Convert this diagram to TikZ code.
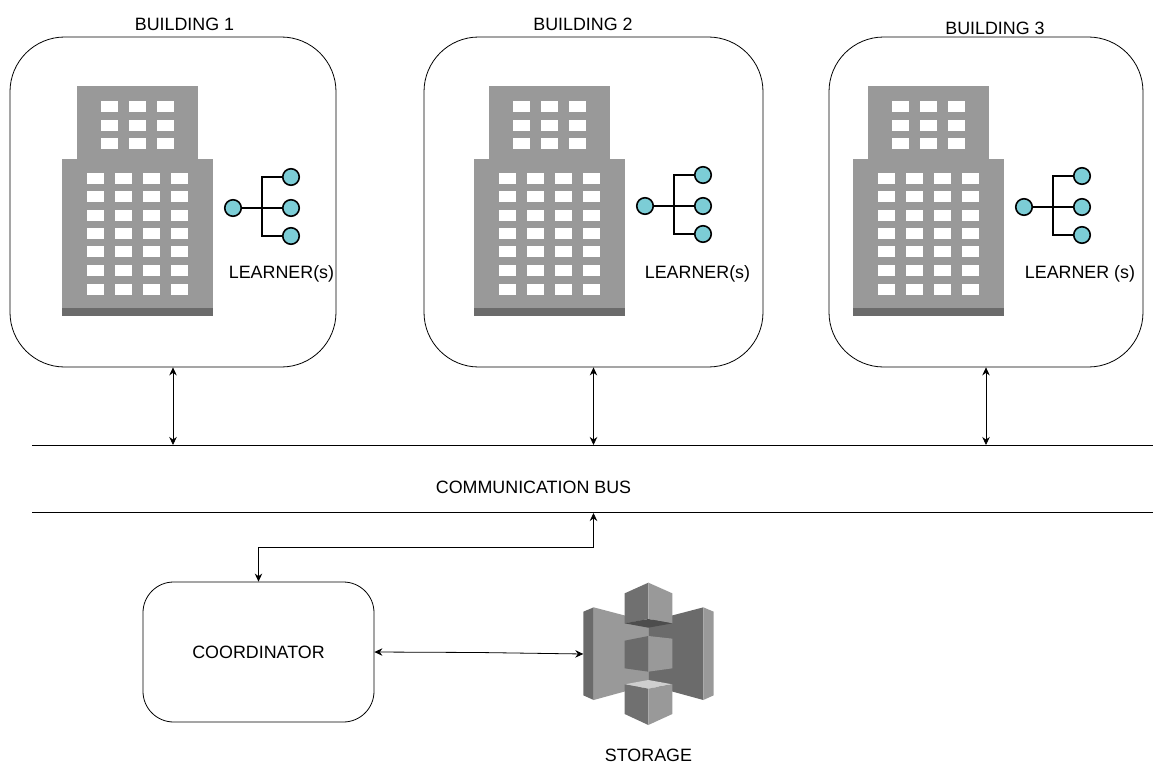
\documentclass[tikz,border=0pt]{standalone}
\usepackage{fontspec}
\setmainfont{Liberation Sans}
\usetikzlibrary{arrows.meta}

\def\px{0.75pt}
\definecolor{wall}{HTML}{999999}
\definecolor{wallshade}{HTML}{6B6B6B}
\definecolor{learnerfill}{HTML}{7CCDD6}
\definecolor{cubedark}{HTML}{4D4D4D}
\definecolor{cubemid}{HTML}{707070}
\definecolor{cubelight}{HTML}{CFCFCF}

\tikzset{
    roombox/.style={draw, rectangle, inner sep=0pt, line width=0.6pt},
    label/.style={inner sep=0pt, font=\fontsize{13.4pt}{15pt}\selectfont},
    learner/.style={draw, circle, fill=learnerfill, line width=1.2pt, minimum size=16.5*\px, inner sep=0pt},
    treeline/.style={line width=1.2pt},
    busline/.style={line width=0.6pt},
    link/.style={line width=0.6pt, {Stealth[length=6pt,width=5.6pt]}-{Stealth[length=6pt,width=5.6pt]}},
    building/.pic={
        \fill[wall] (76.5,86) rectangle (198,159);
        \fill[wall] (62,159) rectangle (212.5,308);
        \fill[wallshade] (62,308) rectangle (212.5,316);
        \foreach \wx in {100.5,129,157}
            \foreach \wy in {101,119.5,138}
                \fill[white] (\wx,\wy) rectangle ++(17,11);
        \foreach \wx in {86.5,115,143,171}
            \foreach \wy in {172.5,191,209.5,227.5,246,265,283.5}
                \fill[white] (\wx,\wy) rectangle ++(17,11);
    },
    learnertree/.pic={
        \node[learner] (root) at (0,0) {};
        \node[learner] (top) at (58,-31) {};
        \node[learner] (mid) at (58,0) {};
        \node[learner] (low) at (58,28) {};
        \coordinate (fork) at (29,0);
        \draw[treeline] (root) -- (mid);
        \draw[treeline] (fork) |- (top);
        \draw[treeline] (fork) |- (low);
    }
}

\begin{document}
\begin{tikzpicture}[x=\px, y=-\px]
    \useasboundingbox (0,0) rectangle (1165,775);

    % buildings
    \node[roombox, rounded corners=41pt, minimum width=326*\px, minimum height=330*\px] (b1) at (173,202) {};
    \node[roombox, rounded corners=41pt, minimum width=339*\px, minimum height=330*\px] (b2) at (593.5,202) {};
    \node[roombox, rounded corners=41pt, minimum width=314*\px, minimum height=330*\px] (b3) at (986,202) {};
    \pic at (0,0) {building};
    \pic at (412,0) {building};
    \pic at (791,0) {building};
    \pic (t1) at (233,208) {learnertree};
    \pic (t2) at (645,206) {learnertree};
    \pic (t3) at (1024,207) {learnertree};

    \node[label] (b1label) at (184.5,24) {BUILDING 1};
    \node[label] (b2label) at (583,24) {BUILDING 2};
    \node[label] (b3label) at (995,28) {BUILDING 3};
    \node[label] (l1label) at (281.5,273.5) {LEARNER(s)};
    \node[label] (l2label) at (697.5,273.5) {LEARNER(s)};
    \node[label] (l3label) at (1080,273.5) {LEARNER (s)};

    % bus
    \coordinate (bustopl) at (32,445);
    \coordinate (bustopr) at (1153,445);
    \coordinate (buslowl) at (32,512.5);
    \coordinate (buslowr) at (1153,512.5);
    \draw[busline] (bustopl) -- (bustopr);
    \draw[busline] (buslowl) -- (buslowr);
    \node[label] (buslabel) at (533.5,487) {COMMUNICATION BUS};

    \draw[link] (b1.south) -- (b1.south |- bustopl);
    \draw[link] (b2.south) -- (b2.south |- bustopl);
    \draw[link] (b3.south) -- (b3.south |- bustopl);

    % coordinator
    \node[roombox, rounded corners=23pt, minimum width=231*\px, minimum height=140*\px] (coord) at (258.5,652) {};
    \node[label] (coordlabel) at (258.5,652.5) {COORDINATOR};
    \coordinate (busport) at (593.5,513);
    \draw[link] (coord.north) |- (258.5,547) -| (busport);

    % storage
    \coordinate (store) at (583.3,654);
    \begin{scope}[shift={(560,570)}, x=\px/3, y=-\px/3]
        \fill[wall] (101,112) -- (265,155) -- (265,345) -- (101,390) -- cycle;
        \fill[wallshade] (265,155) -- (430,112) -- (430,390) -- (265,345) -- cycle;
        \fill[wallshade] (70,125) -- (101,112) -- (101,390) -- (70,376) -- cycle;
        \fill[wall] (430,112) -- (461,125) -- (461,376) -- (430,390) -- cycle;
        % top cube
        \fill[cubemid] (194,70) -- (265,38) -- (265,147) -- (194,160) -- cycle;
        \fill[wall] (265,38) -- (337,70) -- (337,160) -- (265,147) -- cycle;
        \fill[cubedark] (194,160) -- (265,147) -- (337,160) -- (265,173) -- cycle;
        % middle cube
        \fill[wallshade] (194,212) -- (265,198) -- (265,305) -- (194,295) -- cycle;
        \fill[wall] (265,198) -- (337,206) -- (337,295) -- (265,305) -- cycle;
        % bottom cube
        \fill[cubelight] (194,343) -- (265,330) -- (337,343) -- (265,356) -- cycle;
        \fill[cubemid] (194,343) -- (265,356) -- (265,465) -- (194,432) -- cycle;
        \fill[wall] (265,356) -- (337,343) -- (337,432) -- (265,465) -- cycle;
    \end{scope}
    \draw[link] (coord.east) -- (479,652.5) -- (store);
    \node[label] (storelabel) at (648.5,755.5) {STORAGE};
\end{tikzpicture}
\end{document}
